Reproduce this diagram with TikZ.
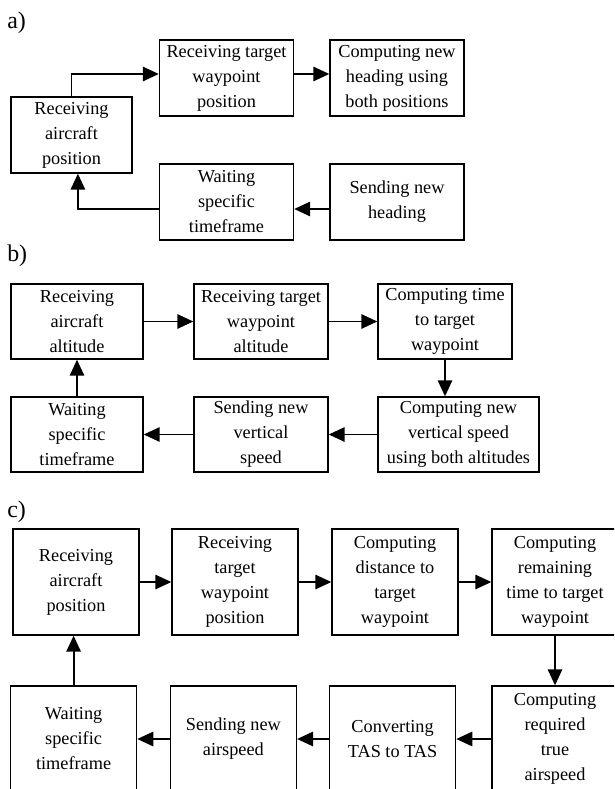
\documentclass[tikz,border=0pt]{standalone}
\usepackage{fontspec}
\setmainfont{Liberation Serif}
\usepackage{tikz}
\usetikzlibrary{arrows.meta,positioning}
\tikzstyle{proc} = [draw, rectangle, align=center, line width=1pt, inner sep=2pt, minimum width=3.35cm]
\tikzstyle{rowa} = [proc, minimum height=1.9cm]
\tikzstyle{rowb} = [proc, minimum height=1.875cm]
\tikzstyle{rowc} = [proc, minimum height=2.65cm, minimum width=3.15cm]
\tikzstyle{tag} = [anchor=base west, inner sep=0pt, font=\fontsize{17}{20}\selectfont]
\tikzstyle{flow} = [->, line width=1.3pt]

\begin{document}
\begin{tikzpicture}[auto, >={Triangle[length=0.4cm,width=0.36cm]}, font=\fontsize{13}{17.8}\selectfont]

\useasboundingbox (0,0) rectangle (15.35,-19.725);
\clip (0,0) rectangle (15.35,-19.725);

% a)
\node [tag] (taga) at (0.175,-0.725) {a)};
\node [rowa] (atgt) at (5.6625,-1.95) {Receiving target\\waypoint\\position};
\node [rowa, right of=atgt, node distance=4.2625cm] (ahead) {Computing new\\heading using\\both positions};
\node [rowa, left of=atgt, node distance=3.875cm, yshift=-1.425cm, minimum width=3.025cm] (apos) {Receiving\\aircraft\\position};
\node [rowa, below of=atgt, node distance=3.1cm] (await) {Waiting\\specific\\timeframe};
\node [rowa, below of=ahead, node distance=3.1cm] (asend) {Sending new\\heading};

\draw [flow] (apos.north) |- ([yshift=0.1cm]atgt.west);
\draw [flow] ([yshift=0.1cm]atgt.east) -- ([yshift=0.1cm]ahead.west);
\draw [flow] ([yshift=-0.175cm]asend.west) -- ([yshift=-0.175cm]await.east);
\draw [flow] ([yshift=-0.175cm]await.west) -| ([xshift=0.16cm]apos.south);

% b)
\node [tag] (tagb) at (0.175,-6.55) {b)};
\node [rowb, minimum width=3.3cm] (balt) at (1.925,-8.0375) {Receiving\\aircraft\\altitude};
\node [rowb, right of=balt, node distance=4.6cm] (btgt) {Receiving target\\waypoint\\altitude};
\node [rowb, right of=btgt, node distance=4.6cm] (btime) {Computing time\\to target\\waypoint};
\node [rowb, below of=btime, node distance=2.825cm, xshift=0.3375cm, minimum width=4.025cm] (bvs) {Computing new\\vertical speed\\using both altitudes};
\node [rowb, below of=btgt, node distance=2.825cm] (bsend) {Sending new\\vertical\\speed};
\node [rowb, below of=balt, node distance=2.825cm, minimum width=3.3cm] (bwait) {Waiting\\specific\\timeframe};

\draw [flow] (balt) -- (btgt);
\draw [flow] (btgt) -- (btime);
\draw [flow] (btime.south) -- (btime.south |- bvs.north);
\draw [flow] (bvs.west |- bsend) -- (bsend);
\draw [flow] (bsend) -- (bwait);
\draw [flow] (bwait) -- (balt);

% c)
\node [tag] (tagc) at (0.175,-12.925) {c)};
\node [rowc] (cpos) at (1.9,-14.55) {Receiving\\aircraft\\position};
\node [rowc, right of=cpos, node distance=3.975cm] (ctgt) {Receiving\\target\\waypoint\\position};
\node [rowc, right of=ctgt, node distance=4cm] (cdist) {Computing\\distance to\\target\\waypoint};
\node [rowc, right of=cdist, node distance=4cm] (crem) {Computing\\remaining\\time to target\\waypoint};
\node [rowc, below of=crem, node distance=3.925cm] (creq) {Computing\\required\\true\\airspeed};
\node [rowc, below of=cdist, node distance=3.925cm, xshift=-0.06cm] (cconv) {Converting\\TAS to TAS};
\node [rowc, below of=ctgt, node distance=3.925cm, xshift=-0.04cm] (cspd) {Sending new\\airspeed};
\node [rowc, below of=cpos, node distance=3.925cm, xshift=-0.06cm] (cwait) {Waiting\\specific\\timeframe};

\draw [flow] (cpos) -- (ctgt);
\draw [flow] (ctgt) -- (cdist);
\draw [flow] (cdist) -- (crem);
\draw [flow] (crem) -- (creq);
\draw [flow] (creq) -- (cconv);
\draw [flow] (cconv) -- (cspd);
\draw [flow] (cspd) -- (cwait);
\draw [flow] (cwait.north) -- (cwait.north |- cpos.south);

\end{tikzpicture}
\end{document}
